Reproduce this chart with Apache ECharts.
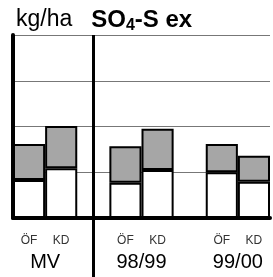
<!DOCTYPE html>
<html>
<head>
<meta charset="utf-8">
<script src="https://cdn.jsdelivr.net/npm/echarts@6/dist/echarts.min.js"></script>
<style>
  html, body { margin: 0; padding: 0; background: #fff; }
  #chart { width: 273px; height: 277px; }
</style>
</head>
<body>
<div id="chart"></div>
<script>
// SO4-S ex, kg/ha — ÖF / KD je Zeitraum (weiß = Basis, grau = Aufschlag)
var slots = ['ÖF', 'KD', '', 'ÖF', 'KD', '', 'ÖF', 'KD'];
var groups = ['', 'MV', '', '', '98/99', '', '', '99/00', ''];
var baseVals = [0.83, 1.09, '-', 0.77, 1.05, '-', 1.00, 0.79];
var extraVals = [0.79, 0.92, '-', 0.80, 0.90, '-', 0.62, 0.57];
var yTicks = [0, 1, 2, 3, 4];

(function () {
  var myChart = echarts.init(document.getElementById('chart'));
  var font = 'Liberation Sans, Arial, sans-serif';

  var option = {
    animation: false,
    title: {
      left: 16,
      top: 6,
      padding: 0,
      text: '{u|kg/ha}{gap|}{b|SO}{sub|4}{b|-S ex}',
      textStyle: {
        rich: {
          u: { fontFamily: font, fontSize: 23, fontWeight: 'normal', color: '#000' },
          gap: { width: 19 },
          b: { fontFamily: font, fontSize: 24, fontWeight: 'bold', color: '#000' },
          sub: { fontFamily: font, fontSize: 16, fontWeight: 'bold', color: '#000', padding: [12, 0, 0, 0] }
        }
      }
    },
    grid: {
      left: 13,
      right: -6,
      top: 35,
      bottom: 59,
      containLabel: false
    },
    xAxis: [{
      type: 'category',
      data: slots,
      axisLine: { show: true, lineStyle: { color: '#000', width: 4 } },
      // Trennlinie unterhalb der Achse bei der Lücke zwischen MV und 98/99
      axisTick: {
        show: true,
        alignWithLabel: true,
        length: 59,
        interval: function (index) { return index === 2; },
        lineStyle: { color: '#000', width: 3 }
      },
      axisLabel: {
        interval: 0,
        margin: 17,
        fontFamily: font,
        fontSize: 12,
        color: '#333'
      },
      splitLine: { show: false }
    }, {
      type: 'category',
      position: 'bottom',
      boundaryGap: false,
      data: groups,
      axisLine: { show: false },
      axisTick: { show: false },
      axisLabel: {
        interval: 0,
        margin: 34,
        fontFamily: font,
        fontSize: 20,
        color: '#000'
      }
    }],
    yAxis: {
      type: 'value',
      min: yTicks[0],
      max: yTicks[yTicks.length - 1],
      interval: 1,
      axisLine: { show: true, lineStyle: { color: '#000', width: 4 } },
      axisTick: { show: false },
      axisLabel: { show: false },
      splitLine: { lineStyle: { color: '#777', width: 1 } }
    },
    series: [{
      name: 'Basis',
      type: 'bar',
      stack: 'a',
      barWidth: '100%',
      data: baseVals,
      itemStyle: { color: '#fff', borderColor: '#000', borderWidth: 2 },
      markLine: {
        silent: true,
        symbol: 'none',
        label: { show: false },
        lineStyle: { color: '#000', width: 3, type: 'solid' },
        data: [{ xAxis: 2 }]
      }
    }, {
      name: 'Aufschlag',
      type: 'bar',
      stack: 'a',
      barWidth: '100%',
      data: extraVals,
      itemStyle: { color: '#a6a6a6', borderColor: '#000', borderWidth: 2 }
    }]
  };

  myChart.setOption(option);
})();
</script>
</body>
</html>
